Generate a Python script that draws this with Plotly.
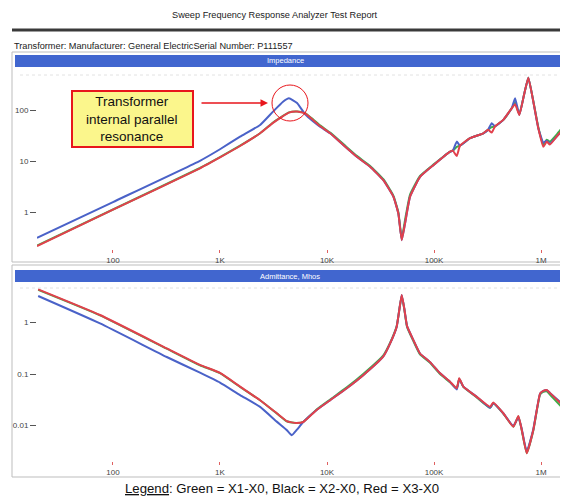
import plotly.graph_objects as go

# Step: 1 -Data (Hz, Ohms / Mhos)

freq_z = [19.5, 100, 650, 1000, 1540, 2370, 3130, 3880, 4410, 5250, 6230, 7400, 8600,
          10700, 14200, 19000, 25300, 33600, 41700, 46400, 49900, 53600, 59700, 74000,
          98600, 139000, 150000, 163000, 175000, 217000, 289000, 320000, 346000, 372000,
          444000, 532000, 572000, 627000, 693000, 761000, 847000, 943000, 1050000,
          1130000, 1210000, 1400000, 1780000]

blue_z = [0.31, 1.57, 10.1, 17, 30, 51, 93, 145, 170, 137, 83, 60, 47,
          35, 20.6, 12.1, 7.7, 4.2, 2.0, 0.94, 0.28, 0.6, 2.0, 4.9,
          8.3, 15, 16, 24, 20, 28, 35, 41, 55, 48,
          64, 108, 170, 80, 197, 430, 146, 44, 23,
          25, 22, 30, 52]

red_z = [0.215, 1.11, 7.2, 11.8, 19.7, 35, 56, 76, 89, 93, 86, 64, 48.5,
         35, 20.6, 12.1, 7.7, 4.2, 2.0, 0.94, 0.28, 0.6, 2.0, 4.9,
         8.3, 15, 16, 12.5, 20, 28, 35, 41, 36, 48,
         64, 108, 130, 80, 197, 430, 146, 44, 19,
         24, 21, 30, 55]

green_z = [0.22, 1.12, 7.3, 11.9, 20, 35, 57, 77, 90, 93, 87, 66, 50,
           36, 21.5, 12.6, 8.0, 4.4, 2.1, 1.0, 0.3, 0.7, 2.2, 5.1,
           8.5, 15, 16, 19, 20, 28, 35, 41, 46, 48,
           64, 108, 140, 82, 197, 430, 150, 46, 21,
           26, 24, 33, 62]

freq_y = [20, 75.7, 318, 650, 1000, 1540, 2370, 3390, 4200, 4680, 5210, 6000, 8000,
          10700, 15300, 21800, 33600, 38800, 44800, 49900, 53000, 56000, 64000, 74000,
          91800, 114000, 141000, 163000, 172000, 188000, 251000, 334000, 358000, 444000,
          551000, 614000, 661000, 735000, 847000, 980000, 1050000, 1130000, 1210000,
          1780000]

red_y = [4.4, 1.40, 0.315, 0.15, 0.105, 0.057, 0.031, 0.0173, 0.0122, 0.0115, 0.0112, 0.0117, 0.020,
         0.031, 0.053, 0.095, 0.22, 0.39, 0.83, 3.4, 1.75, 0.85, 0.46, 0.25,
         0.17, 0.103, 0.071, 0.053, 0.083, 0.057, 0.036, 0.023, 0.028, 0.0173,
         0.0095, 0.0153, 0.0082, 0.0029, 0.0082, 0.042, 0.047, 0.049, 0.043,
         0.020]

blue_y = [3.27, 0.96, 0.214, 0.106, 0.068, 0.039, 0.023, 0.0119, 0.0082, 0.0065, 0.0082, 0.0117, 0.020,
          0.031, 0.053, 0.095, 0.22, 0.39, 0.83, 3.4, 1.75, 0.85, 0.46, 0.25,
          0.17, 0.103, 0.071, 0.050, 0.080, 0.057, 0.036, 0.022, 0.027, 0.0173,
          0.0098, 0.0145, 0.0085, 0.0031, 0.0085, 0.042, 0.047, 0.049, 0.043,
          0.021]

green_y = [4.3, 1.38, 0.31, 0.148, 0.104, 0.056, 0.031, 0.0172, 0.0121, 0.0114, 0.0112, 0.0118, 0.0205,
           0.032, 0.055, 0.1, 0.23, 0.40, 0.85, 3.3, 1.7, 0.82, 0.44, 0.24,
           0.165, 0.1, 0.069, 0.052, 0.081, 0.056, 0.035, 0.022, 0.027, 0.017,
           0.0095, 0.015, 0.008, 0.0029, 0.008, 0.04, 0.045, 0.046, 0.04,
           0.017]

x_ticks = [100, 1000, 10000, 100000, 1000000]
x_labels = ["100", "1K", "10K", "100K", "1M"]
z_ticks = [1, 10, 100]
z_labels = ["1", "10", "100"]
y_ticks = [0.01, 0.1, 1]
y_labels = ["0.01", "0.1", "1"]


# Step: 2 -Helpers (screen pixel -> paper); the page body adds an 8px margin

OFF = 8
W, H = 568 - OFF, 496 - OFF


def px(x):
    return (x - OFF) / W


def py(y):
    return 1 - (y - OFF) / H


GREEN = "#3fae4a"
BLUE = "#4a62c8"
RED = "#e2404c"
FONT = "Liberation Sans, Arial, sans-serif"


# Step: 3 -Traces

fig = go.Figure()
for vals, col in [(green_z, GREEN), (blue_z, BLUE), (red_z, RED)]:
    fig.add_trace(go.Scatter(x=freq_z, y=vals, mode="lines", line=dict(color=col, width=2, shape="spline", smoothing=0.4),
                             xaxis="x", yaxis="y"))
for vals, col in [(green_y, GREEN), (blue_y, BLUE), (red_y, RED)]:
    fig.add_trace(go.Scatter(x=freq_y, y=vals, mode="lines", line=dict(color=col, width=2, shape="spline", smoothing=0.4),
                             xaxis="x2", yaxis="y2"))


# Step: 4 -Axes

xaxis_common = dict(type="log", range=[1.29, 6.252], domain=[px(37), 1], automargin=False,
                    tickvals=x_ticks, ticktext=x_labels, ticks="outside", ticklen=3,
                    tickcolor="#e06060", showgrid=False, zeroline=False, showline=False,
                    tickfont=dict(size=8, color="#444", family=FONT))
yaxis_common = dict(type="log", ticks="outside", ticklen=6, tickcolor="#555", automargin=False,
                    showgrid=False, zeroline=False, showline=False,
                    tickfont=dict(size=8, color="#444", family=FONT))

fig.update_layout(
    width=W, height=H, margin=dict(l=0, r=0, t=0, b=0, autoexpand=False),
    paper_bgcolor="white", plot_bgcolor="rgba(0,0,0,0)", showlegend=False,
    xaxis=dict(xaxis_common, anchor="y"),
    yaxis=dict(yaxis_common, anchor="x", domain=[py(249), py(72)], range=[-0.725, 2.745],
               tickvals=z_ticks, ticktext=z_labels),
    xaxis2=dict(xaxis_common, anchor="y2"),
    yaxis2=dict(yaxis_common, anchor="x2", domain=[py(461), py(285)], range=[-2.689, 0.728],
                tickvals=y_ticks, ticktext=y_labels),
)


# Step: 5 -Report decoration: panels, header bars, texts

P = dict(xref="paper", yref="paper", layer="below")
shapes = [
    dict(P, type="line", x0=px(12), x1=1, y0=py(30), y1=py(30), line=dict(color="#3a3a3a", width=3)),
    dict(P, type="rect", x0=px(12), x1=1.01, y0=py(262), y1=py(52), line=dict(color="#bdbdbd", width=1)),
    dict(P, type="rect", x0=px(15), x1=1, y0=py(67), y1=py(55), fillcolor="#4166cf", line=dict(width=0)),
    dict(P, type="rect", x0=px(12), x1=1.01, y0=py(477), y1=py(265), line=dict(color="#bdbdbd", width=1)),
    dict(P, type="rect", x0=px(15), x1=1, y0=py(282), y1=py(270), fillcolor="#4166cf", line=dict(width=0)),
    dict(P, type="line", x0=px(20), x1=1, y0=py(75), y1=py(75), line=dict(color="#e2e2e2", width=1, dash="dot")),
    dict(P, type="line", x0=px(20), x1=1, y0=py(288), y1=py(288), line=dict(color="#e2e2e2", width=1, dash="dot")),
    # callout box and circle
    dict(xref="paper", yref="paper", type="rect", x0=px(72), x1=px(193), y0=py(147), y1=py(91),
         fillcolor="#fbf68c", line=dict(color="#e8161c", width=2)),
    dict(xref="paper", yref="paper", type="circle", x0=px(272), x1=px(308), y0=py(121), y1=py(85),
         line=dict(color="#e8161c", width=1)),
]
fig.update_layout(shapes=shapes)

texts = [
    ("Sweep Frequency Response Analyzer Test Report", 275, 15, 9.2, "#222", "center"),
    ("Transformer: Manufacturer: General ElectricSerial Number: P111557", 12, 46, 9.2, "#222", "left"),
    ("Impedance", 285, 61, 7.5, "white", "center"),
    ("Admittance, Mhos", 290, 276, 7.5, "white", "center"),
    ("<u>Legend</u>: Green = X1-X0, Black = X2-X0, Red = X3-X0", 282, 488, 13.2, "#111", "center"),
    ("Transformer<br>internal parallel<br>resonance", 132, 119, 13.5, "#111", "center"),
]
for txt, x, y, size, col, anchor in texts:
    fig.add_annotation(text=txt, x=px(x), y=py(y), xref="paper", yref="paper", showarrow=False,
                       xanchor=anchor, yanchor="middle", align="center",
                       font=dict(size=size, color=col, family=FONT))

# red arrow pointing at the resonance
fig.add_annotation(text="", x=px(268), y=py(103), xref="paper", yref="paper",
                   ax=-68, ay=0, showarrow=True, arrowhead=2, arrowsize=1,
                   arrowwidth=1.5, arrowcolor="#e8161c")

fig.write_html("out.html")
